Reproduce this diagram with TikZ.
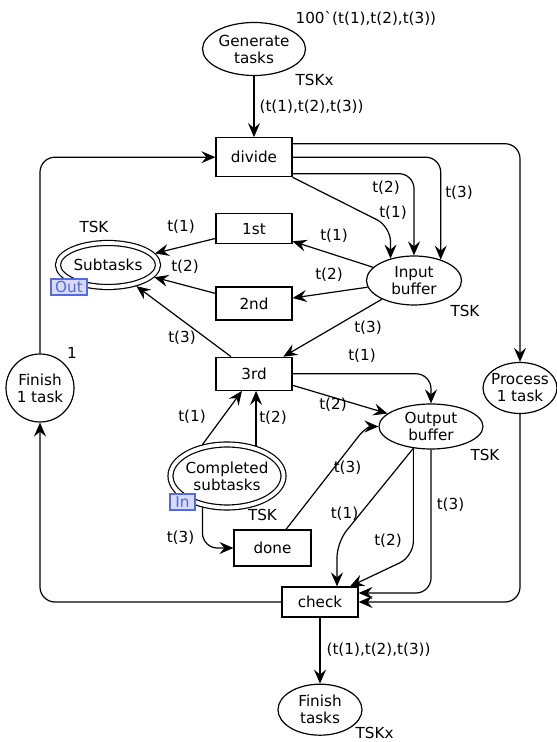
\documentclass[tikz,border=0pt]{standalone}
\usepackage{fontspec}
\setmainfont{DejaVu Sans}
\usepackage{xcolor}
\usepackage{tikz}
\usetikzlibrary{arrows.meta, positioning, shapes.geometric}

\definecolor{portline}{RGB}{85,105,225}
\definecolor{portfill}{RGB}{214,219,250}

\begin{document}
\begin{tikzpicture}[
    x=1pt, y=1pt,
    font=\fontsize{15.2}{17}\selectfont,
    place/.style={ellipse, draw, align=center, inner sep=0pt},
    fusion/.style={place, double, double distance=3.8pt, outer sep=3pt},
    trans/.style={rectangle, draw, inner sep=0pt, minimum width=76pt},
    lbl/.style={inner sep=0pt},
    port/.style={draw=portline, fill=portfill, text=portline,
                 inner sep=0pt, minimum height=16pt},
    elbow/.style={rounded corners=15pt},
    ->, >={Stealth[length=14pt, width=12pt, inset=5pt]}, line width=1.2pt,
    node distance=36pt
  ]
  \useasboundingbox (0,0) rectangle (557,742);

  % places and transitions
  \node[place, minimum width=103pt, minimum height=53pt] (gen) at (254,693) {Generate\\tasks};
  \node[trans, minimum height=39pt, below=61pt of gen] (divide) {divide};
  \node[trans, minimum height=30pt, below=of divide] (first) {1st};
  \node[trans, minimum height=33pt, below=42pt of first] (second) {2nd};
  \node[trans, minimum height=33pt, below=of second] (third) {3rd};
  \node[place, minimum width=95pt, minimum height=49pt] (inbuf) at (414,461.5) {Input\\buffer};
  \node[fusion, minimum width=100pt, minimum height=44pt] (sub) at (108,477) {Subtasks};
  \node[place, circle, minimum size=68pt] (fin1) at (40,354) {Finish\\1 task};
  \node[place, inner xsep=-5pt, minimum width=74pt, minimum height=51pt] (proc) at (520,354) {Process\\1 task};
  \node[place, minimum width=104pt, minimum height=45pt] (outbuf) at (431,315.5) {Output\\buffer};
  \node[fusion, inner xsep=-5pt, minimum width=113pt, minimum height=63pt] (comp) at (227,266) {Completed\\subtasks};
  \node[trans, minimum width=77pt, minimum height=36pt] (done) at (272.5,194) {done};
  \node[trans, minimum height=30pt] (check) at (320,140) {check};
  \node[place, minimum width=84pt, minimum height=51pt, below=66pt of check] (fin) {Finish\\tasks};

  % port tags
  \node[port, minimum width=36pt] (outport) at (69,455) {Out};
  \node[port, minimum width=25pt] (inport) at (182.5,240) {In};

  % colour sets and initial markings
  \node[lbl, anchor=west] at (295,724) {100\textasciigrave(t(1),t(2),t(3))};
  \node[lbl, anchor=west] at (295,662) {TSKx};
  \node[lbl] at (94,515) {TSK};
  \node[lbl] at (465,431) {TSK};
  \node[lbl] at (72,389) {1};
  \node[lbl] at (485,287) {TSK};
  \node[lbl] at (262.5,227) {TSK};
  \node[lbl, anchor=west] at (355,9) {TSKx};

  % arc inscriptions
  \node[lbl, anchor=west] at (259,635) {(t(1),t(2),t(3))};
  \node[lbl] at (386,554) {t(2)};
  \node[lbl] at (393,529) {t(1)};
  \node[lbl] at (459,549) {t(3)};
  \node[lbl] at (181,515) {t(1)};
  \node[lbl] at (185,475) {t(2)};
  \node[lbl] at (182,404) {t(3)};
  \node[lbl] at (334,506) {t(1)};
  \node[lbl] at (329,467) {t(2)};
  \node[lbl] at (368,414) {t(3)};
  \node[lbl] at (362,386) {t(1)};
  \node[lbl] at (333,337) {t(2)};
  \node[lbl] at (192,325) {t(1)};
  \node[lbl] at (273,324) {t(2)};
  \node[lbl] at (180.5,204) {t(3)};
  \node[lbl] at (347.5,274) {t(3)};
  \node[lbl] at (344.5,228) {t(1)};
  \node[lbl] at (388,201) {t(2)};
  \node[lbl] at (450.5,237) {t(3)};
  \node[lbl, anchor=west] at (326,92) {(t(1),t(2),t(3))};

  % arcs
  \draw (gen) -- (divide);
  \draw[elbow] ([yshift=13.5pt]divide.east) -| (proc);
  \draw[elbow] (divide.east) -| (inbuf.38);
  \draw[elbow] ([yshift=-16.5pt]divide.east) -| (inbuf);
  \draw[elbow] (divide.south east) -- ([yshift=32pt]inbuf.137) -- (inbuf.137);
  \draw (inbuf) -- (first);
  \draw (inbuf) -- (second);
  \draw (inbuf) -- (third);
  \draw (first) -- (sub);
  \draw (second) -- (sub);
  \draw (third) -- (sub);
  \draw (comp.128) -- ([xshift=-12pt]third.south);
  \draw (comp.46) -- (comp.46 |- third.south);
  \draw[elbow] (comp.232) |- (done);
  \draw ([xshift=13.5pt]done.north) -- ([xshift=-20pt, yshift=-10pt]outbuf.west)
    to[out=52, in=180] (outbuf.west);
  \draw[elbow] (third.east) -| (outbuf);
  \draw (third) -- (outbuf);
  \draw[elbow] (outbuf.231) -- ([xshift=17pt, yshift=44pt]check.north) -- ([xshift=17pt]check.north);
  \draw[elbow] (outbuf.231) -- ([yshift=30pt]check.north -| outbuf.231) -- ([xshift=30pt]check.north);
  \draw[elbow] (outbuf) |- ([yshift=9pt]check.east);
  \draw[elbow] (proc) |- (check);
  \draw[elbow] (check) -| (fin1);
  \draw[elbow] (fin1) |- (divide);
  \draw (check) -- (fin);
\end{tikzpicture}
\end{document}
